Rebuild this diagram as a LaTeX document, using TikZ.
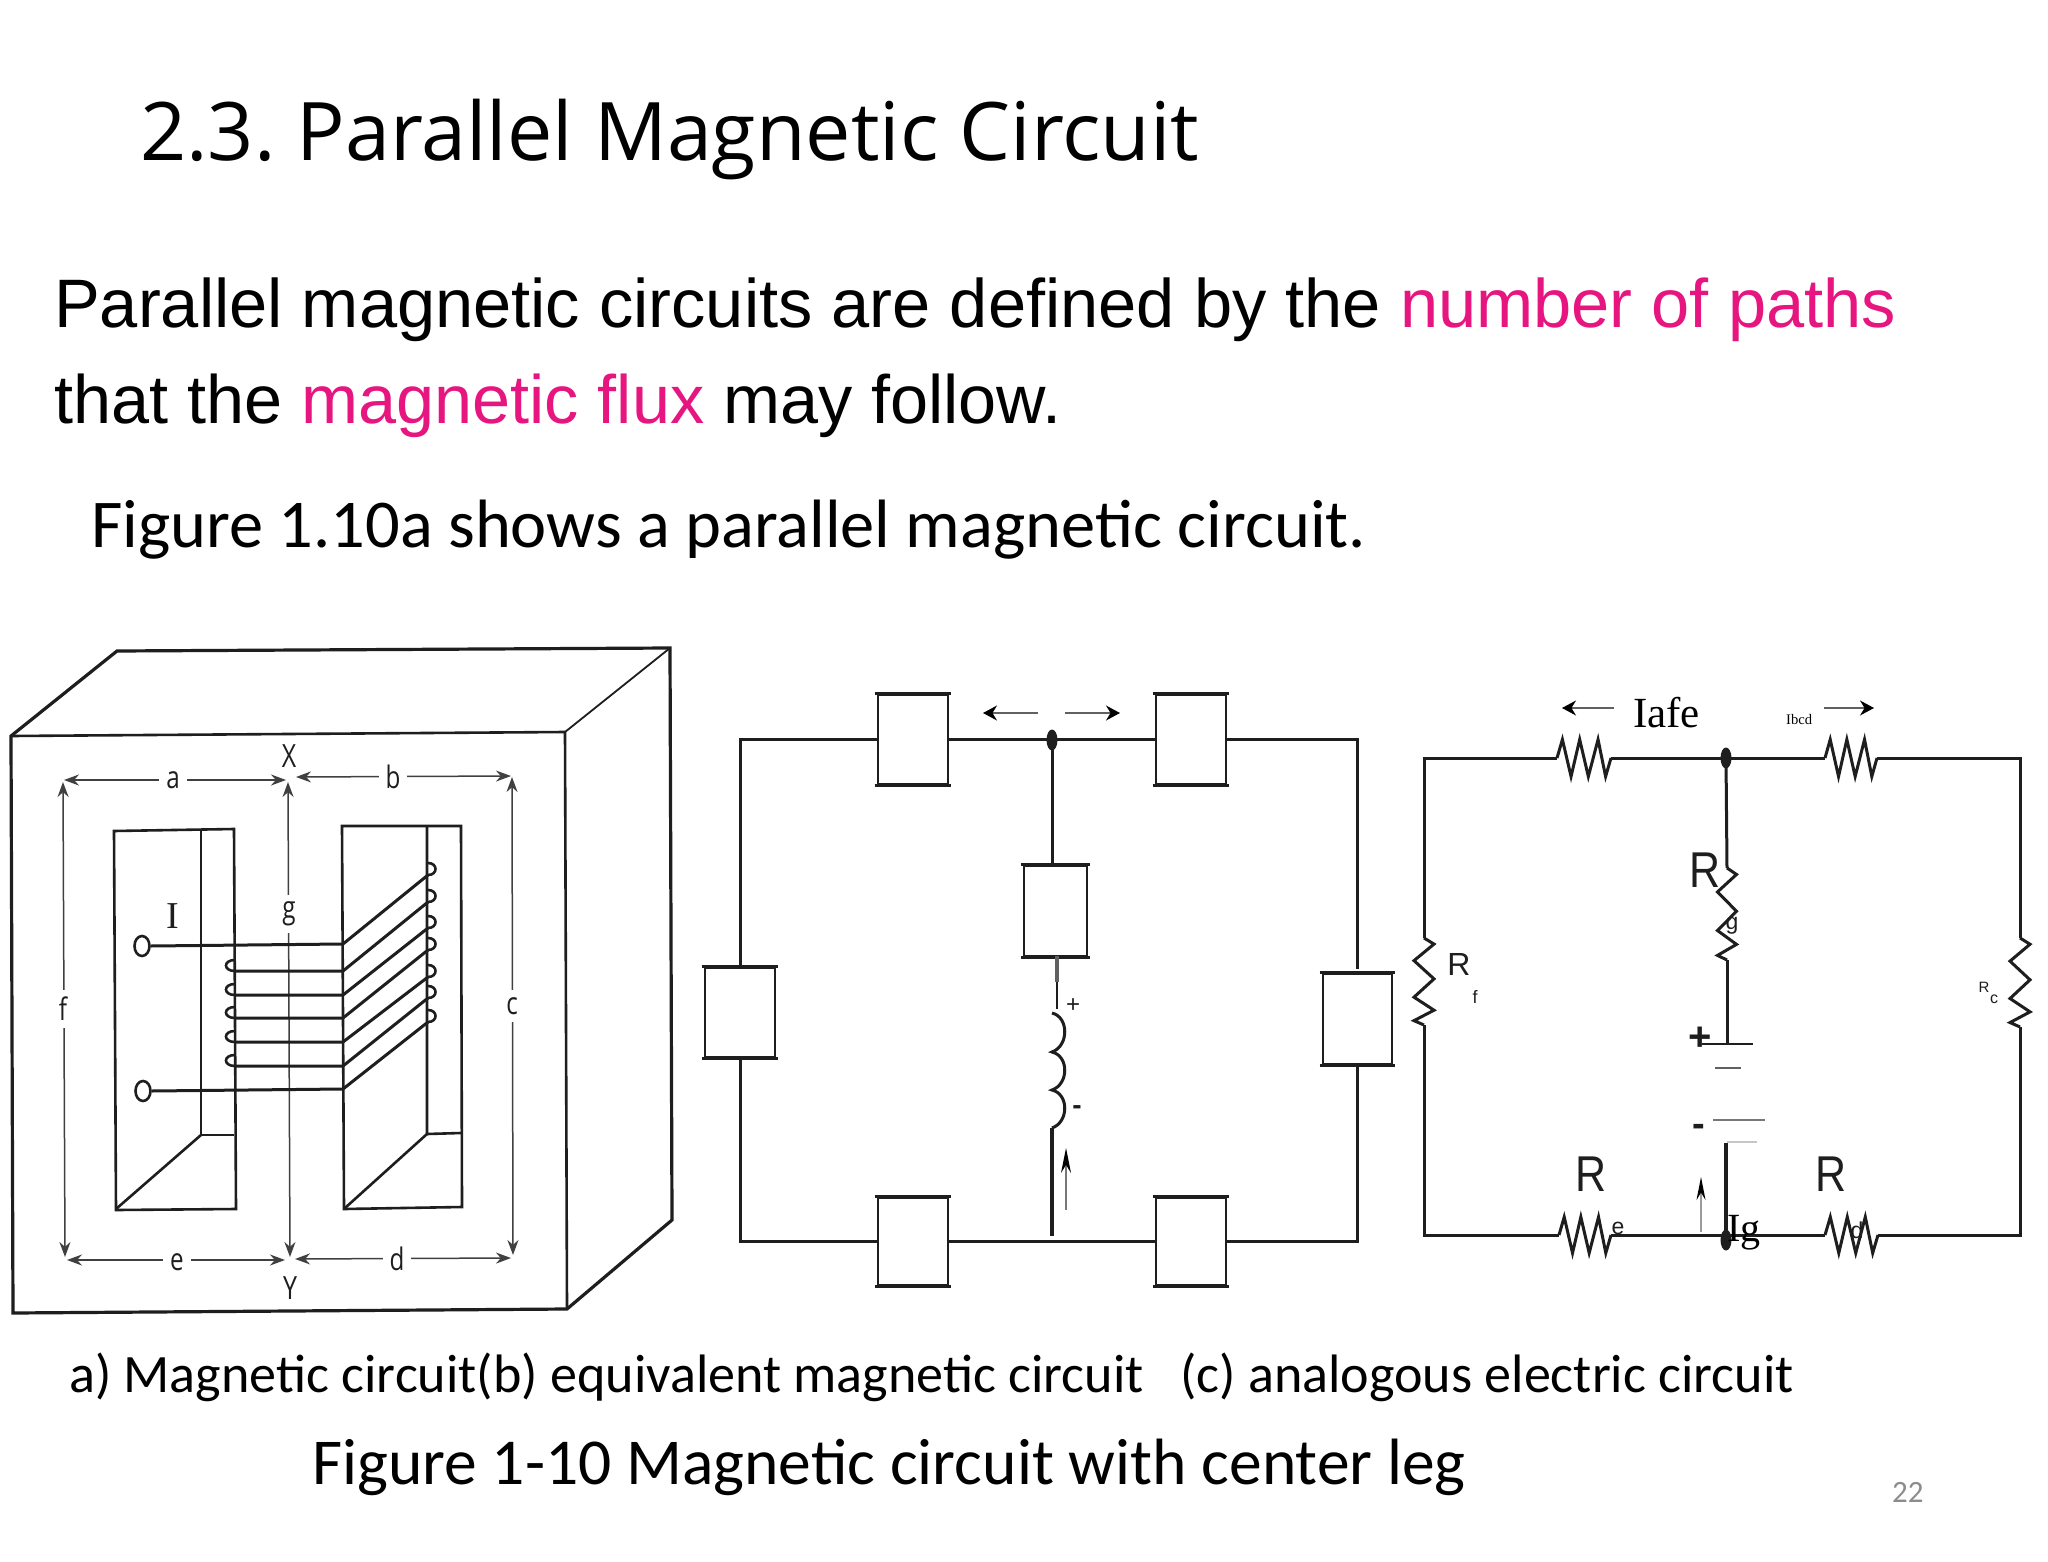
\documentclass[tikz,border=0pt]{standalone}
\usepackage{fontspec}
\setmainfont{Liberation Sans}
\newfontfamily\opensans{Open Sans}
\newfontfamily\carlito{Carlito}
\newfontfamily\lserif{Liberation Serif}
\usetikzlibrary{arrows.meta,shapes.geometric,calc}
\definecolor{ink}{HTML}{1E1E1E}
\definecolor{pinktext}{HTML}{E6157F}
\newcommand{\fs}[1]{\fontsize{#1}{#1}\selectfont}
\newcommand{\tallR}{\scalebox{1}[1.17]{R}}
\newcommand{\narrow}[1]{\scalebox{.78}[1]{#1}}
\tikzset{
  txt/.style={anchor=base west,inner sep=0pt,text=black},
  mid/.style={anchor=center,inner sep=0pt,text=ink},
  wire/.style={draw=ink,line width=3pt,line join=miter},
  thin wire/.style={draw=ink,line width=1.8pt},
  dimline/.style={draw=ink!85,line width=1.5pt,{Stealth[length=15pt,width=11pt]}-{Stealth[length=15pt,width=11pt]}},
  dimlab/.style={mid,fill=white,inner xsep=7pt,inner ysep=7pt,font=\opensans\fs{31}},
  flow/.style={draw=ink!70,line width=1.3pt,-{Stealth[length=14pt,width=15pt,black]}},
  magbox/.style={draw=ink,line width=2.8pt,rectangle,fill=white,inner sep=0pt},
  jn/.style={fill=ink,draw=none,ellipse,inner sep=0pt,minimum width=11pt,minimum height=21pt},
  terminal/.style={draw=ink,line width=2.6pt,ellipse,minimum width=15pt,minimum height=20pt,inner sep=0pt},
  hres/.pic={\draw[wire] (0,0)--(.1,-1)--(.26,1)--(.42,-1)--(.58,1)--(.76,-1)--(.9,1)--(1,0);},
  vres/.pic={\draw[wire] (0,0)--(1,.07)--(-1,.26)--(1,.47)--(-1,.68)--(1,.83)--(-1,.95)--(0,1);}
}
\begin{document}
\begin{tikzpicture}[x=1pt,y=-1pt]
\useasboundingbox (0,0) rectangle (2048,1562);
\fill[white] (0,0) rectangle (2048,1562);

% ---- Text
\node[txt,font=\opensans\fs{80.8}] (title) at (140,161) {2.3.\hspace{-7pt} Parallel Magnetic Circuit};
\node[txt,font=\fs{68.6}] (line1) at (54,327) {Parallel magnetic circuits are defined by the \textcolor{pinktext}{number of paths}};
\node[txt,font=\fs{68.4}] (line2) at (54,423) {that the \textcolor{pinktext}{magnetic flux} may follow.};
\node[txt,font=\carlito\fs{68.4}] (fig) at (91,547) {Figure 1.10a shows a parallel magnetic circuit.};
\node[txt,font=\carlito\fs{54.1}] (cap) at (69,1392) {a) Magnetic circuit(b) equivalent magnetic circuit\ \ \ (c) analogous electric circuit};
\node[txt,font=\carlito\fs{65.5}] (cap2) at (312,1484) {Figure 1-10 Magnetic circuit with center leg};
\node[txt,font=\carlito\fs{31},text=black!45] (pg) at (1892,1502) {22};

% ---- (a) Magnetic circuit
\draw[wire,line width=3.2pt] (11,736) -- (117,651) -- (670,648) -- (672,1220) -- (567,1309) -- (13,1313) -- cycle;
\draw[wire,line width=2.6pt] (11,736) -- (565,732) -- (567,1309);
\draw[thin wire] (565,732) -- (670,648);
\draw[wire,line width=2.6pt] (114,831) -- (234,829) -- (236,1209) -- (116,1210) -- cycle;
\draw[wire,line width=2.6pt] (201,829) -- (201,1135) -- (234,1135);
\draw[wire,line width=2.6pt] (201,1135) -- (116,1209);
\draw[wire,line width=2.6pt] (342,826) -- (461,826) -- (462,1207) -- (344,1209) -- cycle;
\draw[wire,line width=2.6pt] (427,826) -- (427,1134) -- (461,1133);
\draw[wire,line width=2.6pt] (427,1134) -- (345,1208);

\coordinate (ptTL) at (64,780); \coordinate (ptX) at (286,780);
\coordinate (ptXr) at (296,777); \coordinate (ptTR) at (511,776);
\coordinate (ptBL) at (67,1260); \coordinate (ptY) at (285,1260);
\coordinate (ptYr) at (295,1259); \coordinate (ptBR) at (511,1258);
\draw[dimline] (ptTL) -- (ptX);
\draw[dimline] (ptXr) -- (ptTR);
\draw[dimline] (ptBL) -- (ptY);
\draw[dimline] (ptYr) -- (ptBR);
\draw[dimline] (63,782) -- (65,1257);
\draw[dimline] (512,777) -- (513,1255);
\draw[dimline] (288,782) -- (290,1257);

\node[dimlab] (la) at (173,780) {\narrow{a}};
\node[dimlab] (lb) at (393,777) {\narrow{b}};
\node[dimlab] (lf) at (63,1009) {\narrow{f}};
\node[dimlab] (lc) at (512,1006) {\narrow{c}};
\node[dimlab] (lg) at (289,914) {\narrow{g}};
\node[dimlab] (le) at (177,1262) {\narrow{e}};
\node[dimlab] (ld) at (397,1259) {\narrow{d}};
\node[mid,font=\opensans\fs{32}] (lX) at (289,756) {\narrow{X}};
\node[mid,font=\opensans\fs{32}] (lY) at (290,1288) {\narrow{Y}};
\node[mid,font=\lserif\fs{38}] (lI) at (173,916) {I};

% coil
\node[terminal] (t1) at (142,946) {};
\node[terminal] (t2) at (143,1091) {};
\draw[wire] (t1.east) -- (343,944) -- (428,875);
\draw[wire] (t2.east) -- (343,1089) -- (428,1022);
\foreach \yr/\ye in {971/902,995/928,1018/950,1042/977,1066/998}{
  \draw[wire] (235,\yr) -- (343,\yr) -- (428,\ye);
  \draw[wire,line width=2.6pt] (235,\yr) .. controls (223,\yr) and (223,\yr-11) .. (235,\yr-11);
}
\foreach \ye in {875,902,928,950,977,998,1022}{
  \draw[wire,line width=2.6pt] (428,\ye) .. controls (438,\ye) and (438,\ye-12) .. (428,\ye-12);
}

% ---- (b) Equivalent magnetic circuit
\node[magbox,minimum width=70pt,minimum height=89pt] (bTL) at (913,739.5) {};
\node[magbox,minimum width=70pt,minimum height=89pt] (bTR) at (1191,739.5) {};
\node[magbox,minimum width=70pt,minimum height=87pt] (bBL) at (913,1241.5) {};
\node[magbox,minimum width=70pt,minimum height=87pt] (bBR) at (1191,1241.5) {};
\node[magbox,minimum width=70pt,minimum height=89pt] (bL) at (740,1012.5) {};
\node[magbox,minimum width=69pt,minimum height=90pt] (bR) at (1357.5,1019) {};
\node[magbox,minimum width=63pt,minimum height=90pt] (bC) at (1055.5,911) {};
\foreach \b in {bTL,bTR,bBL,bBR,bL,bR,bC}{
  \draw[wire] ($(\b.north west)+(-2,0)$) -- ($(\b.north east)+(2,0)$);
  \draw[wire] ($(\b.south west)+(-2,0)$) -- ($(\b.south east)+(2,0)$);
}
\node[jn] (bJ) at (1052,740) {};
\coordinate (bRu) at (1357.5,969);
\coordinate (bCin) at (1057,1009);
\coordinate (bCoilT) at (1052,1013);
\coordinate (bCoilB) at (1052,1128);
\coordinate (bFoot) at (1052,1236);
\draw[wire] (bL.north) -- (bL.north |- bTL.west) -- (bTL.west);
\draw[wire] (bTL.east) -- (bTR.west);
\draw[wire] (bTR.east) -- (bRu |- bTR.east) -- (bRu);
\draw[wire] (bL.south) -- (bL.south |- bBL.west) -- (bBL.west);
\draw[wire] (bBL.east) -- (bBR.west);
\draw[wire] (bBR.east) -- (bR.south |- bBR.east) -- (bR.south);
\draw[wire] (bJ.center) -- (bC.north -| bJ.center);
\draw[draw=ink!70,line width=4pt] (1057,956) -- (1057,982);
\draw[thin wire] (1057,982) -- (bCin);
\draw[wire] (bCoilT) .. controls (1069,1017) and (1069,1046) .. (1052,1052)
  .. controls (1069,1056) and (1069,1084) .. (1052,1090)
  .. controls (1069,1094) and (1069,1122) .. (bCoilB);
\draw[wire,line width=3.5pt] (bCoilB) -- (bFoot);
\draw[flow] (1038,713) -- (983,713);
\draw[flow] (1065,713) -- (1120,713);
\draw[draw=ink!60,line width=1.3pt,-{Stealth[length=25pt,width=10pt,black]}] (1066,1210) -- (1066,1148);
\node[mid,font=\fs{24}] (bPlus) at (1073,1006) {+};
\node[mid,font=\bfseries\fs{28}] (bMinus) at (1077,1110) {-};

% ---- (c) Analogous electric circuit
\coordinate (cTL) at (1424,758);
\coordinate (cTR) at (2020,758);
\coordinate (cBL) at (1424,1235);
\coordinate (cBR) at (2020,1235);
\node[jn] (cJt) at (1726,758) {};
\node[jn] (cJb) at (1726,1240) {};
\coordinate (rTLa) at (1557,758); \coordinate (rTLb) at (1611,758);
\coordinate (rTRa) at (1825,758); \coordinate (rTRb) at (1877,758);
\coordinate (rBLa) at (1559,1235); \coordinate (rBLb) at (1611,1235);
\coordinate (rBRa) at (1825,1235); \coordinate (rBRb) at (1878,1235);
\coordinate (rLa) at (1424,938); \coordinate (rLb) at (1424,1025);
\coordinate (rRa) at (2020,938); \coordinate (rRb) at (2020,1027);
\coordinate (rCa) at (1727,868); \coordinate (rCb) at (1727,960);
\coordinate (batA) at (1727,1044); \coordinate (batB) at (1726,1143);
\pic[xscale=54,yscale=18.5] at (rTLa) {hres};
\pic[xscale=52,yscale=18.5] at (rTRa) {hres};
\pic[xscale=52,yscale=18] at (rBLa) {hres};
\pic[xscale=53,yscale=18] at (rBRa) {hres};
\pic[xscale=10,yscale=87] at (rLa) {vres};
\pic[xscale=10,yscale=89] at (rRa) {vres};
\pic[xscale=9.5,yscale=92] at (rCa) {vres};
\draw[wire] (rLa) -- (cTL) -- (rTLa);
\draw[wire] (rTLb) -- (cJt.center) -- (rTRa);
\draw[wire] (rTRb) -- (cTR) -- (rRa);
\draw[wire] (rRb) -- (cBR) -- (rBRb);
\draw[wire] (rBRa) -- (rBLb);
\draw[wire] (rBLa) -- (cBL) -- (rLb);
\draw[wire] (cJt.center) -- (rCa);
\draw[wire] (rCb) -- (batA);
\draw[wire,line width=3.2pt] (batB) -- (cJb.center);
\draw[wire,line width=2pt] (1702,1044) -- (1753,1044);
\draw[draw=ink!70,line width=2.4pt] (1715,1068) -- (1741,1068);
\draw[draw=ink!60,line width=2pt] (1713,1120) -- (1765,1120);
\draw[draw=ink!25,line width=1.5pt] (1727,1142) -- (1757,1142);
\draw[flow] (1614,708) -- (1562,708);
\draw[flow] (1824,708) -- (1874,708);
\draw[draw=ink!45,line width=1.6pt,-{Stealth[length=23pt,width=9pt,black]}] (1701,1232) -- (1701,1177);
\node[txt,font=\lserif\fs{43}] (cIafe) at (1633,727) {Iafe};
\node[txt,font=\lserif\fs{14.6}] (cIbcd) at (1786,724) {Ibcd};
\node[txt,font=\lserif\fs{40}] (cIg) at (1727,1241) {Ig};
\node[mid,font=\fs{43}] (cRg) at (1705,870) {\tallR};
\node[mid,font=\fs{23}] (cg) at (1732,926) {g};
\node[mid,font=\fs{32}] (cRf) at (1459,964) {R};
\node[mid,font=\fs{18}] (cf) at (1475,997) {f};
\node[mid,font=\fs{15}] (cRc) at (1984,987) {R};
\node[mid,font=\fs{16}] (cc) at (1994,999) {c};
\node[mid,font=\fs{43}] (cRe) at (1591,1174) {\tallR};
\node[mid,font=\fs{23}] (ce) at (1618,1228) {e};
\node[mid,font=\fs{43}] (cRd) at (1831,1174) {\tallR};
\node[mid,font=\fs{23}] (cd) at (1857,1230) {d};
\node[mid,font=\bfseries\fs{40}] (cPlus) at (1700,1039) {+};
\node[mid,font=\bfseries\fs{38}] (cMinus) at (1699,1130) {-};
\end{tikzpicture}
\end{document}
